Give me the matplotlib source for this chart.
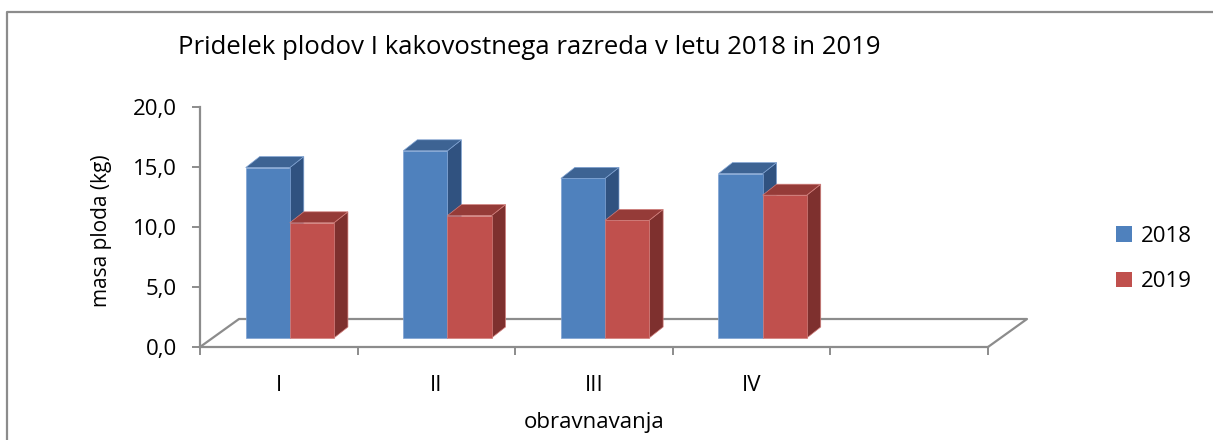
import numpy as np
import matplotlib.pyplot as plt
from matplotlib.patches import Polygon, Patch
from matplotlib.lines import Line2D

# data
categories = ['I', 'II', 'III', 'IV', '']
values_2018 = [14.2, 15.6, 13.3, 13.7]
values_2019 = [9.6, 10.2, 9.8, 11.9]
series_names = ['2018', '2019']
y_ticks = [0, 5, 10, 15, 20]

FONT = 'Open Sans'
GRAY = '#8c8c8c'
front_cols = ['#4f81bd', '#c0504d']
top_cols = ['#3d6393', '#953b38']
side_cols = ['#305280', '#7e302e']
edge_cols = ['#7fa2d2', '#d27f7c']

W, H = 1213, 440
fig = plt.figure(figsize=(W / 100, H / 100), dpi=100)
ax = fig.add_axes([200 / W, 93 / H, 788 / W, 240 / H])
ax.set_xlim(0, len(categories))
ax.set_ylim(0, 20)

# pixel sizes of one data unit, used for the oblique 3d offsets
PX = 788 / len(categories)
PY = 240 / 20


def px(dx, dy):
    return dx / PX, dy / PY


floor_dx, floor_dy = px(39, 28)
shift_x, shift_y = px(11, 9)
depth_x, depth_y = px(14, 11)
bar_w = 0.28

# floor outline
n = len(categories)
ax.add_line(Line2D([0, floor_dx, n + floor_dx, n], [0, floor_dy, floor_dy, 0],
                   color=GRAY, lw=1.6, clip_on=False, zorder=1))

z = 2
for i in range(len(values_2018)):
    for k, vals in enumerate([values_2018, values_2019]):
        h = vals[i]
        x0 = i + 0.5 - bar_w + k * bar_w + shift_x
        b = shift_y
        x1 = x0 + bar_w
        side = Polygon([(x1, b), (x1 + depth_x, b + depth_y),
                        (x1 + depth_x, b + h + depth_y), (x1, b + h)],
                       closed=True, fc=side_cols[k], ec=edge_cols[k], lw=0.5,
                       clip_on=False, zorder=z)
        top = Polygon([(x0, b + h), (x1, b + h), (x1 + depth_x, b + h + depth_y),
                       (x0 + depth_x, b + h + depth_y)],
                      closed=True, fc=top_cols[k], ec=edge_cols[k], lw=0.5,
                      clip_on=False, zorder=z)
        ax.add_patch(side)
        ax.add_patch(top)
        ax.bar(x0, h, width=bar_w, bottom=b, align='edge', color=front_cols[k],
               edgecolor=edge_cols[k], lw=0.5, clip_on=False, zorder=z + 1)
        z += 2

for s in ['top', 'right']:
    ax.spines[s].set_visible(False)
for s in ['left', 'bottom']:
    ax.spines[s].set_color(GRAY)
    ax.spines[s].set_linewidth(1.6)

ax.set_yticks(y_ticks)
ax.set_yticklabels([f'{t:.1f}'.replace('.', ',') for t in y_ticks],
                   fontfamily=FONT, fontsize=16)
ax.tick_params(axis='y', length=5.5, width=1.4, color=GRAY, pad=11)

ax.set_xticks(np.arange(n + 1))
ax.set_xticklabels([])
ax.tick_params(axis='x', which='major', length=5.5, width=1.4, color=GRAY)
ax.set_xticks(np.arange(n) + 0.5, minor=True)
ax.set_xticklabels(categories, minor=True, fontfamily=FONT, fontsize=16)
ax.tick_params(axis='x', which='minor', length=0, pad=20)

fig.text(101 / W, 1 - 231 / H, 'masa ploda (kg)', rotation=90, ha='center',
         va='center', fontfamily=FONT, fontsize=15)
fig.text(594 / W, 1 - 422 / H, 'obravnavanja', ha='center', va='center',
         fontfamily=FONT, fontsize=16)
fig.text(529 / W, 1 - 47 / H, 'Pridelek plodov I kakovostnega razreda v letu 2018 in 2019',
         ha='center', va='center', fontfamily=FONT, fontsize=18.5)

handles = [Patch(fc=front_cols[k]) for k in range(2)]
fig.legend(handles, series_names, loc='center left',
           bbox_to_anchor=(1105 / W, 1 - 259 / H), frameon=False,
           prop={'family': FONT, 'size': 16}, handlelength=0.7, handleheight=0.7,
           handletextpad=0.4, labelspacing=1.1, borderpad=0)

# chart frame
fig.add_artist(Line2D([7 / W, 7 / W, 1], [0, 1 - 12 / H, 1 - 12 / H],
                      color=GRAY, lw=1.6, transform=fig.transFigure))

fig.savefig('out.png', dpi=100)
